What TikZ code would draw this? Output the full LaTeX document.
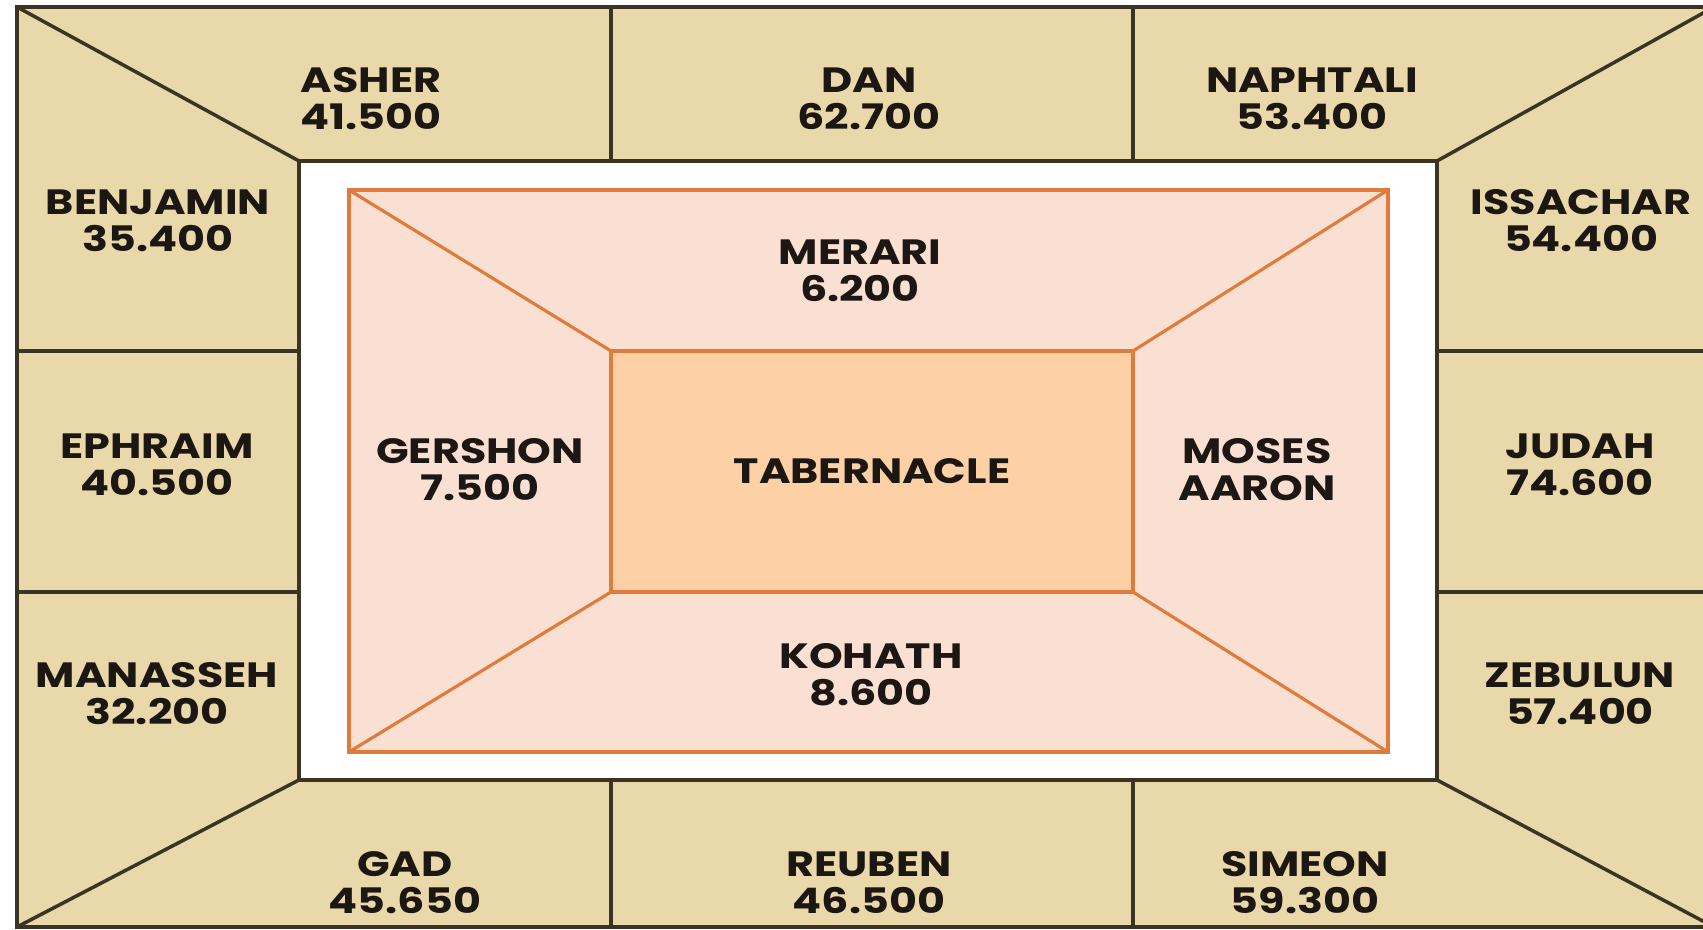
\documentclass[tikz,border=0pt]{standalone}
\usepackage{fontspec}
\newfontfamily\tribefont{Poppins}[FakeStretch=1.22]
\usetikzlibrary{positioning}
\definecolor{campfill}{HTML}{E9D8A9}
\definecolor{campline}{HTML}{3B3424}
\definecolor{levfill}{HTML}{FADFD3}
\definecolor{levline}{HTML}{E07B3C}
\definecolor{tabfill}{HTML}{FDD0A6}
\definecolor{inkdark}{HTML}{1C1712}

\begin{document}
\begin{tikzpicture}[x=0.1mm,y=-0.1mm,
 area/.style={inner sep=0pt,outer sep=0pt},
 tribe/.style={align=center,text=inkdark,font=\tribefont\bfseries\fontsize{10}{10.5}\selectfont},
 frame/.style={draw=campline,line width=1pt},
 rim/.style={draw=levline,line width=0.9pt}]
\useasboundingbox (0,0) rectangle (1703,930);
\clip (0,0) rectangle (1703,930);
% camp, court, levites and tabernacle
\node[area,frame,fill=campfill,minimum width=169.7mm,minimum height=92mm] (camp) at (865.5,467) {};
\node[area,frame,fill=white,minimum width=113.8mm,minimum height=61.9mm] (court) at (868,470.5) {};
\node[area,rim,fill=levfill,minimum width=103.9mm,minimum height=56.2mm] (levites) at (868.5,471) {};
\node[area,tribe,draw=levline,line width=1.3pt,fill=tabfill,minimum width=52.2mm,minimum height=24.1mm] (tab) at (872,471.5) {TABERNACLE};
\foreach \c in {north west,north east,south west,south east}{
  \draw[rim] (levites.\c) -- (tab.\c);
  \draw[frame] (camp.\c) -- (court.\c);
}
% dividers between the tribes
\foreach \s in {west,east}{
  \draw[frame] (tab.\s |- camp.north) -- (tab.\s |- court.north);
  \draw[frame] (tab.\s |- court.south) -- (tab.\s |- camp.south);
}
\foreach \s in {north,south}{
  \draw[frame] (camp.west |- tab.\s) -- (court.west |- tab.\s);
  \draw[frame] (court.east |- tab.\s) -- (camp.east |- tab.\s);
}
\node[tribe] (asher) at (371,99) {ASHER\\41.500};
\node[tribe] (dan) at (869,99) {DAN\\62.700};
\node[tribe] (naphtali) at (1312,99) {NAPHTALI\\53.400};
\node[tribe] (benjamin) at (158,221) {BENJAMIN\\35.400};
\node[tribe] (ephraim) at (157,465) {EPHRAIM\\40.500};
\node[tribe] (manasseh) at (157,694) {MANASSEH\\32.200};
\node[tribe] (issachar) at (1581,221) {ISSACHAR\\54.400};
\node[tribe] (judah) at (1580,465) {JUDAH\\74.600};
\node[tribe] (zebulun) at (1580,694) {ZEBULUN\\57.400};
\node[tribe] (gad) at (405,883) {GAD\\45.650};
\node[tribe] (reuben) at (869,883) {REUBEN\\46.500};
\node[tribe] (simeon) at (1305,883) {SIMEON\\59.300};
\node[tribe] (merari) at (860,271) {MERARI\\6.200};
\node[tribe] (gershon) at (480,470) {GERSHON\\7.500};
\node[tribe] (moses) at (1257,470) {MOSES\\AARON};
\node[tribe] (kohath) at (871,675) {KOHATH\\8.600};
\end{tikzpicture}
\end{document}
